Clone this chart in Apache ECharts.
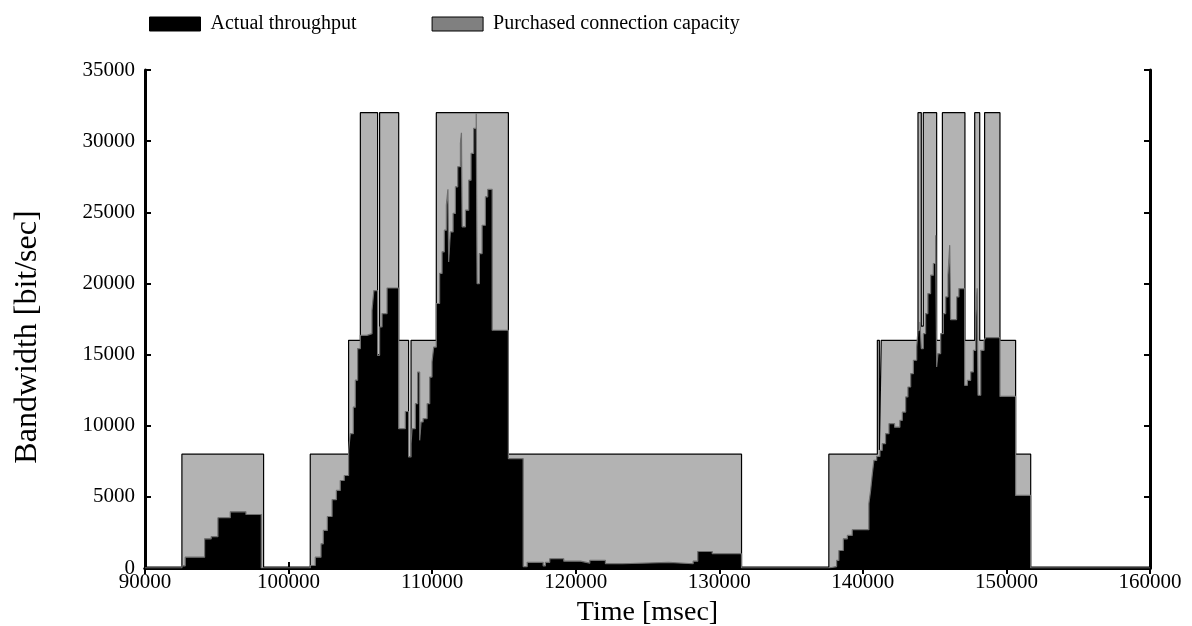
<!DOCTYPE html>
<html>
<head>
<meta charset="utf-8">
<script src="https://cdn.jsdelivr.net/npm/echarts@6/dist/echarts.min.js"></script>
<style>
html,body{margin:0;padding:0;background:#fff;}
#chart{width:1192px;height:626px;}
</style>
</head>
<body>
<div id="chart"></div>
<script>
// Purchased connection capacity (step changes: time in msec, value in bit/sec)
const capTimes = [90000, 92570, 98260, 101510, 104180, 105000, 106200, 106340, 107670, 108360, 108530, 110290, 115310, 131550, 137630, 141010, 141150, 141280, 143840, 144070, 144210, 145140, 145540, 147110, 147790, 148140, 148480, 149550, 150640, 151690, 160000];
const capValues = [60, 8000, 60, 8000, 16000, 32000, 15000, 32000, 16000, 7800, 16000, 32000, 8000, 60, 8000, 16000, 8300, 16000, 32000, 17000, 32000, 16000, 32000, 16000, 32000, 16000, 32000, 16000, 8000, 60, 60];

// Actual throughput (step changes)
const thrTimes = [90000, 92570, 92800, 94150, 94610, 95080, 95940, 97030, 98100,
  101510, 101860, 102260, 102420, 102700, 103030, 103330, 103600, 103880, 104180, 104300, 104510, 104650, 104810, 105000, 105460, 105810, 105940,
  106200, 106340, 106510, 106860, 107670, 108130, 108360, 108530, 108600, 108830, 108990, 109130, 109230, 109370, 109650, 109830, 109990, 110110,
  110290, 110520, 110690, 110850, 110990, 111100, 111150, 111270, 111460, 111620, 111780, 111970, 112040, 112090, 112320, 112550, 112710, 112890, 113070,
  113130, 113290, 113480, 113710, 113870, 114180, 115310, 116340, 116620, 117730, 117890, 118190, 119170, 120330, 120980, 122070, 123240, 126480, 128180, 128500, 129510, 131550,
  137630, 138170, 138330, 138640, 138920, 139260, 140420, 140540, 140660, 140770, 140960, 141190, 141350, 141580, 141820, 142210, 142580, 142750, 142980, 143140, 143330, 143520, 143750,
  143840, 143980, 144070, 144210, 144370, 144530, 144720, 144910, 145070, 145140, 145230, 145420, 145610, 145770, 145930, 146050, 146110, 146530, 146690,
  147090, 147280, 147510, 147700, 147860, 147960, 148020, 148210, 148440, 148550, 149550, 150640, 151690, 160000];
const thrValues = [0, 150, 760, 2050, 2200, 3530, 3950, 3760, 0,
  175, 760, 1700, 2640, 3620, 4800, 5450, 6150, 6500, 8270, 9440, 11300, 13200, 15420, 16350, 16470, 18100, 19500,
  14950, 16940, 17880, 19680, 9790, 11000, 7800, 8740, 9790, 11550, 13770, 8970, 10260, 10500, 11550, 13420, 14480, 15530,
  18590, 20700, 22220, 23740, 25500, 26610, 21510, 23620, 24920, 26790, 28200, 29840, 30590, 23980, 25150, 27260, 29140, 30900, 31950,
  19990, 22100, 24090, 26090, 26610, 16710, 7680, 100, 400, 150, 400, 650, 480, 340, 530, 300, 390, 300, 480, 1160, 1000, 0,
  100, 530, 1230, 2050, 2290, 2690, 4520, 5450, 6630, 7560, 7840, 8270, 8740, 9440, 10140, 9900, 10380, 10960, 12020, 12720, 13660, 14600, 15530,
  16710, 17290, 15420, 16470, 17880, 19290, 20580, 21400, 23390, 14130, 15070, 16470, 17880, 19050, 20580, 22690, 17460, 19050, 19640,
  12840, 13190, 13780, 15300, 17640, 19660, 12140, 15300, 16000, 16190, 12060, 5100, 0, 0];

const seriesNames = ['Actual throughput', 'Purchased connection capacity'];
const xTitle = 'Time [msec]';
const yTitle = 'Bandwidth [bit/sec]';
const xMin = 90000, xMax = 160000, xStep = 10000;
const yMin = 0, yMax = 35000, yStep = 5000;

const pair = (t, v) => t.map((x, i) => [x, v[i]]);
const FONT = 'Liberation Serif';
const plain = v => String(v);

const chart = echarts.init(document.getElementById('chart'), null, {renderer: 'canvas'});
const tickInside = {show: true, inside: true, length: 6, lineStyle: {color: '#000', width: 2}};
chart.setOption({
  animation: false,
  backgroundColor: '#fff',
  grid: {left: 145, right: 42, top: 70, bottom: 58, containLabel: false, outerBoundsMode: 'none'},
  legend: {
    left: 144, top: 9,
    itemWidth: 51, itemHeight: 14, itemGap: 75,
    icon: 'rect',
    textStyle: {fontFamily: FONT, fontSize: 20, color: '#000', padding: [0, 0, 0, 5]},
    data: [
      {name: seriesNames[0], itemStyle: {color: '#000', borderColor: '#000', borderWidth: 1}},
      {name: seriesNames[1], itemStyle: {color: '#808080', borderColor: '#000', borderWidth: 1}}
    ]
  },
  graphic: [{
    type: 'text', x: 28, y: 337, rotation: Math.PI / 2,
    style: {text: yTitle, font: '32px "Liberation Serif"', fill: '#000', align: 'center', verticalAlign: 'middle'}
  }],
  xAxis: [{
    type: 'value', min: xMin, max: xMax, interval: xStep,
    name: xTitle, nameLocation: 'middle', nameGap: 31,
    nameTextStyle: {fontFamily: FONT, fontSize: 28, color: '#000'},
    axisLine: {show: true, lineStyle: {color: '#000', width: 3}},
    axisTick: tickInside,
    axisLabel: {fontFamily: FONT, fontSize: 21, color: '#000', margin: 4, formatter: plain},
    splitLine: {show: false}
  }, {
    type: 'value', min: xMin, max: xMax, interval: xStep, position: 'top',
    axisLine: {show: true, lineStyle: {color: '#000', width: 3}},
    axisTick: tickInside, axisLabel: {show: false}, splitLine: {show: false}
  }],
  yAxis: [{
    type: 'value', min: yMin, max: yMax, interval: yStep,
    axisLine: {show: true, lineStyle: {color: '#000', width: 3}},
    axisTick: tickInside,
    axisLabel: {fontFamily: FONT, fontSize: 21, color: '#000', margin: 10, formatter: plain},
    splitLine: {show: false}
  }, {
    type: 'value', min: yMin, max: yMax, interval: yStep, position: 'right',
    axisLine: {show: true, lineStyle: {color: '#000', width: 3}},
    axisTick: tickInside, axisLabel: {show: false}, splitLine: {show: false}
  }],
  series: [{
    name: seriesNames[1], type: 'line', step: 'end',
    xAxisIndex: 0, yAxisIndex: 0,
    showSymbol: false, symbol: 'none',
    data: pair(capTimes, capValues),
    itemStyle: {color: '#808080'},
    lineStyle: {color: '#000', width: 1.2},
    areaStyle: {color: '#b3b3b3', opacity: 1},
    z: 2
  }, {
    name: seriesNames[0], type: 'line', step: 'end',
    xAxisIndex: 0, yAxisIndex: 0,
    showSymbol: false, symbol: 'none',
    data: pair(thrTimes, thrValues),
    itemStyle: {color: '#000'},
    lineStyle: {color: '#6e6e6e', width: 1.2},
    areaStyle: {color: '#000', opacity: 1},
    z: 3
  }]
});
</script>
</body>
</html>
